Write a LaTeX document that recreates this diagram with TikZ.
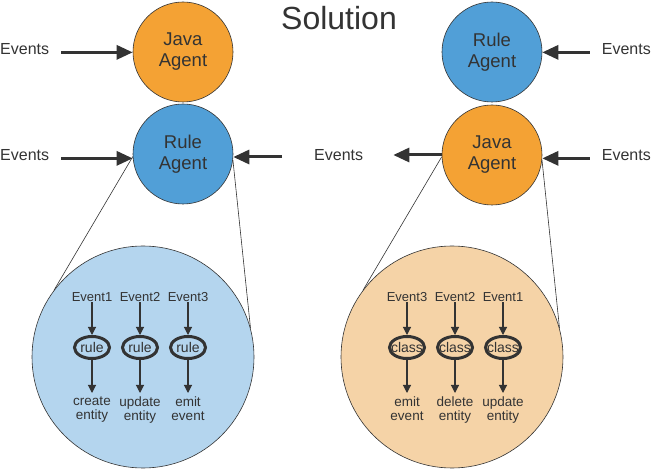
\documentclass[tikz,border=0pt]{standalone}
\usepackage{fontspec}
\setmainfont{Liberation Sans}
\usetikzlibrary{arrows.meta,shapes.geometric}
\definecolor{txt}{HTML}{333333}
\definecolor{jorange}{HTML}{F4A234}
\definecolor{rblue}{HTML}{519FD7}
\definecolor{lblue}{HTML}{B4D5EE}
\definecolor{lorange}{HTML}{F5D3A7}
\begin{document}
\begin{tikzpicture}[x=1pt,y=-1pt,
  agent/.style={circle,draw=txt,line width=0.6pt,minimum size=100pt,inner sep=0pt,align=center,
    font=\fontsize{18.5}{21}\selectfont,text=txt},
  bigc/.style={circle,draw=txt,line width=0.6pt,minimum size=222pt,inner sep=0pt},
  evtxt/.style={inner sep=0pt,font=\fontsize{16}{19}\selectfont,text=txt},
  smalltxt/.style={inner sep=0pt,font=\fontsize{13}{14}\selectfont,text=txt},
  outtxt/.style={inner xsep=0pt,inner ysep=3.5pt,align=center,font=\fontsize{13.5}{14}\selectfont,text=txt},
  proc/.style={ellipse,draw=txt,line width=3pt,minimum width=35pt,minimum height=22pt,inner sep=0pt,
    font=\fontsize{14}{15}\selectfont,text=txt},
  bigarr/.style={draw=txt,line width=3pt,-{Triangle[length=16pt,width=14pt]}},
  smallarr/.style={draw=txt,line width=1.1pt,-{Triangle[length=8pt,width=8pt]}},
  zoomline/.style={draw=txt,line width=0.6pt}
]
\useasboundingbox (0,0) rectangle (651,470);

% title
\node[inner sep=0pt,font=\fontsize{32}{36}\selectfont,text=txt,anchor=base] (title) at (339,30) {Solution};

% agents
\node[agent,fill=jorange] (javaL) at (183,52) {Java\\Agent};
\node[agent,fill=rblue] (ruleL) at (183,154) {Rule\\Agent};
\node[agent,fill=rblue] (ruleR) at (492,52) {Rule\\Agent};
\node[agent,fill=jorange] (javaR) at (492,155) {Java\\Agent};

% event labels
\node[evtxt,anchor=base west] (evL1) at (0,55) {Events};
\node[evtxt,anchor=base west] (evL2) at (0,161) {Events};
\node[evtxt,anchor=base west] (evM) at (314,161) {Events};
\node[evtxt,anchor=base east] (evR1) at (651,55) {Events};
\node[evtxt,anchor=base east] (evR2) at (651,161) {Events};
\coordinate (tailM) at (282,157);
\coordinate (tipM) at ([xshift=30pt]evM.mid east);

% big arrows
\draw[bigarr] ([xshift=12pt]evL1.mid east) -- (evL1.mid east -| javaL.west);
\draw[bigarr] ([xshift=12pt]evL2.mid east) -- (evL2.mid east -| ruleL.west);
\draw[bigarr] (tailM) -- (tailM -| ruleL.east);
\draw[bigarr] (javaR.west) -- (tipM |- javaR.west);
\draw[bigarr] ([xshift=-12pt]evR1.mid west) -- (evR1.mid west -| ruleR.east);
\draw[bigarr] ([xshift=-12pt]evR2.mid west) -- (evR2.mid west -| javaR.east);

% zoom circles
\node[bigc,fill=lblue] (bigL) at (143,357) {};
\node[bigc,fill=lorange] (bigR) at (452,357) {};
\draw[zoomline] (ruleL.183) -- (bigL.143);
\draw[zoomline] (ruleL.-7) -- (bigL.15);
\draw[zoomline] (javaR.182) -- (bigR.143);
\draw[zoomline] (javaR.-6) -- (bigR.15);

% details
\foreach \n/\x/\e/\p/\o in {a/92/Event1/rule/{create\\entity},b/140/Event2/rule/{update\\entity},c/188/Event3/rule/{emit\\event},
                           d/407/Event3/class/{emit\\event},e/455/Event2/class/{delete\\entity},f/503/Event1/class/{update\\entity}}{
  \node[smalltxt,anchor=base] (ev\n) at (\x,302) {\e};
  \node[proc] (pr\n) at (\x,347.5) {\makebox[0pt]{\p}};
  \node[outtxt,anchor=north] (out\n) at (\x,393) {\o};
  \draw[smallarr] (ev\n.south) -- (pr\n.north);
  \draw[smallarr] (pr\n.south) -- (out\n.north);
}
\end{tikzpicture}
\end{document}
